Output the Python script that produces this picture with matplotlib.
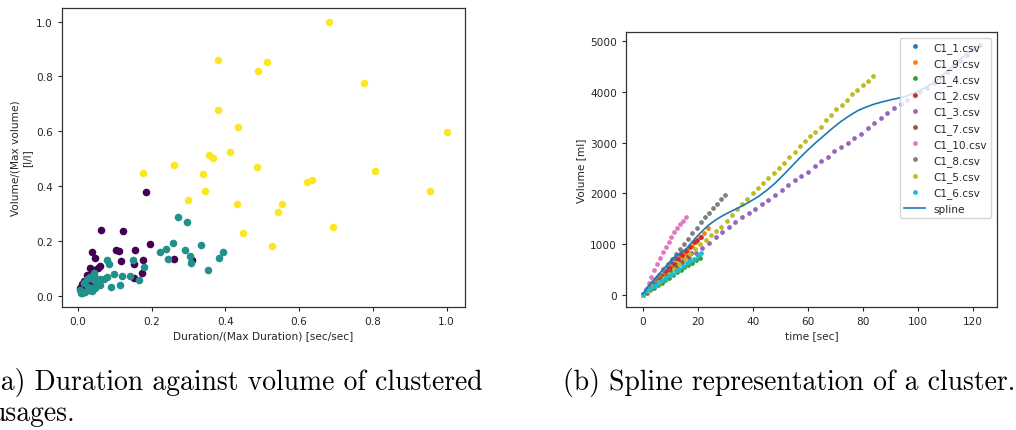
import matplotlib
matplotlib.use("Agg")
import matplotlib.pyplot as plt

# ---------------- data: left scatter (normalised duration vs volume) ----------------
c0_x = [0.186, 0.064, 0.122, 0.195, 0.038, 0.105, 0.111, 0.156, 0.048, 0.118, 0.176, 0.153,
        0.260, 0.310, 0.061, 0.034, 0.174, 0.152, 0.029, 0.050, 0.030, 0.012, 0.007, 0.021,
        0.040, 0.025, 0.045, 0.018, 0.035, 0.055]
c0_y = [0.380, 0.239, 0.235, 0.190, 0.159, 0.167, 0.163, 0.166, 0.139, 0.128, 0.130, 0.118,
        0.133, 0.130, 0.110, 0.100, 0.082, 0.067, 0.066, 0.051, 0.045, 0.045, 0.030, 0.037,
        0.085, 0.075, 0.095, 0.055, 0.050, 0.100]

c1_x = [0.271, 0.297, 0.259, 0.335, 0.238, 0.224, 0.290, 0.393, 0.303, 0.245, 0.383, 0.306,
        0.354, 0.149, 0.179, 0.078, 0.084, 0.098, 0.120, 0.143, 0.165, 0.115, 0.089, 0.080,
        0.061, 0.043, 0.012, 0.007, 0.021, 0.030, 0.039, 0.048, 0.052, 0.043, 0.034, 0.027,
        0.016, 0.070, 0.060, 0.045, 0.025, 0.010, 0.035]
c1_y = [0.289, 0.270, 0.193, 0.184, 0.170, 0.159, 0.166, 0.159, 0.145, 0.133, 0.137, 0.121,
        0.093, 0.130, 0.106, 0.130, 0.118, 0.079, 0.072, 0.072, 0.057, 0.039, 0.033, 0.070,
        0.063, 0.084, 0.009, 0.021, 0.015, 0.023, 0.018, 0.027, 0.045, 0.057, 0.070, 0.033,
        0.048, 0.060, 0.040, 0.075, 0.060, 0.010, 0.030]

c2_x = [0.680, 0.381, 0.512, 0.488, 0.775, 0.380, 0.435, 1.000, 0.412, 0.355, 0.366, 0.486,
        0.260, 0.807, 0.176, 0.340, 0.622, 0.635, 0.344, 0.954, 0.299, 0.431, 0.553, 0.544,
        0.693, 0.448, 0.526]
c2_y = [1.000, 0.859, 0.851, 0.820, 0.776, 0.676, 0.616, 0.598, 0.524, 0.515, 0.504, 0.470,
        0.476, 0.456, 0.449, 0.444, 0.416, 0.422, 0.382, 0.383, 0.351, 0.334, 0.334, 0.305,
        0.250, 0.229, 0.182]

# ---------------- data: right plot (volume over time per file) ----------------
series_names = ["C1_1.csv", "C1_9.csv", "C1_4.csv", "C1_2.csv", "C1_3.csv",
                "C1_7.csv", "C1_10.csv", "C1_8.csv", "C1_5.csv", "C1_6.csv"]

t_c1_1 = [0, 1.3, 2.6, 3.9, 5.2, 6.5, 7.8, 9.1, 10.4, 11.7, 13.0, 14.3]
v_c1_1 = [20, 100, 180, 255, 330, 400, 470, 550, 640, 720, 775, 830]

t_c1_9 = [0, 1.5, 3.0, 4.4, 5.9, 7.4, 8.9, 10.3, 11.8, 13.3, 14.8, 16.2, 17.7, 19.2, 20.7, 22.1, 23.6]
v_c1_9 = [0, 70, 150, 230, 310, 390, 470, 550, 630, 720, 800, 880, 960, 1050, 1130, 1220, 1314]

t_c1_4 = [0, 1.4, 2.7, 4.1, 5.5, 6.9, 8.2, 9.6, 11.0, 12.4, 13.7, 15.1, 16.5, 17.9, 19.2, 20.6]
v_c1_4 = [0, 40, 90, 140, 190, 240, 290, 340, 390, 440, 490, 540, 590, 620, 680, 723]

t_c1_2 = [0, 1.4, 2.8, 4.2, 5.7, 7.1, 8.5, 9.9, 11.3, 12.7, 14.1, 15.6, 17.0, 18.4, 19.8, 21.2]
v_c1_2 = [0, 60, 140, 220, 300, 380, 460, 530, 610, 700, 780, 870, 950, 1040, 1090, 1137]

t_c1_3 = [0, 2.4, 4.8, 7.2, 9.6, 12.0, 14.4, 16.8, 19.2, 21.6, 24.0, 26.4, 28.8, 31.2, 33.6,
          36.0, 38.4, 40.8, 43.2, 45.6, 48.0, 50.4, 52.8, 55.2, 57.6, 60.0, 62.4, 64.8, 67.2,
          69.6, 72.0, 74.4, 76.8, 79.2, 81.6, 84.0, 86.4, 88.8, 91.2, 93.6, 96.0, 98.4, 100.8,
          103.2, 105.6, 108.0, 110.4, 112.8, 115.2, 117.6, 120.0, 122.4]
v_c1_3 = [0, 100, 205, 310, 410, 515, 620, 720, 820, 925, 1030, 1132, 1237, 1332, 1435,
          1532, 1610, 1690, 1785, 1878, 1965, 2065, 2170, 2270, 2339, 2430, 2536, 2638, 2725,
          2830, 2915, 3000, 3085, 3180, 3285, 3390, 3485, 3585, 3680, 3760, 3840, 3920, 4000,
          4080, 4180, 4290, 4400, 4510, 4620, 4730, 4840, 4930]

t_c1_7 = [0, 1.25, 2.5, 3.75, 5, 6.25, 7.5, 8.75, 10, 11.25, 12.5, 13.75, 15, 16.25, 17.5]
v_c1_7 = [0, 50, 110, 170, 230, 290, 350, 410, 470, 530, 590, 650, 710, 770, 830]

t_c1_10 = [0, 1.0, 2.1, 3.1, 4.2, 5.2, 6.2, 7.3, 8.3, 9.4, 10.4, 11.4, 12.5, 13.5, 14.6, 15.6]
v_c1_10 = [0, 110, 230, 360, 490, 610, 720, 840, 950, 1050, 1140, 1230, 1310, 1390, 1460, 1530]

t_c1_8 = [0, 1.5, 3.0, 4.5, 6.0, 7.5, 9.0, 10.5, 12.0, 13.5, 15.0, 16.5, 18.0, 19.5, 21.0,
          22.5, 24.0, 25.5, 27.0, 28.5, 29.8]
v_c1_8 = [0, 100, 200, 300, 400, 500, 600, 710, 810, 910, 1010, 1110, 1210, 1320, 1430,
          1530, 1620, 1710, 1800, 1880, 1960]

t_c1_5 = [0, 1.9, 3.8, 5.7, 7.6, 9.5, 11.4, 13.3, 15.2, 17.1, 19.0, 20.9, 22.8, 24.7, 26.6,
          28.5, 30.4, 32.3, 34.2, 36.1, 38.0, 39.9, 41.8, 43.7, 45.6, 47.5, 49.4, 51.3, 53.2,
          55.1, 57.0, 58.9, 60.8, 62.7, 64.6, 66.5, 68.4, 70.3, 72.2, 74.1, 76.0, 77.9, 79.8,
          81.7, 83.6]
v_c1_5 = [0, 80, 165, 250, 335, 420, 510, 600, 700, 800, 900, 995, 1090, 1170, 1250,
          1340, 1460, 1570, 1690, 1790, 1895, 2000, 2103, 2210, 2300, 2404, 2500, 2601, 2710,
          2825, 2930, 3030, 3128, 3220, 3318, 3440, 3540, 3660, 3750, 3850, 3955, 4040, 4130,
          4217, 4322]

t_c1_6 = [0, 1.3, 2.7, 4.0, 5.3, 6.6, 8.0, 9.3, 10.6, 11.9, 13.3, 14.6, 15.9, 17.2, 18.6, 19.9, 21.2]
v_c1_6 = [20, 70, 120, 170, 220, 270, 320, 370, 410, 460, 510, 570, 620, 660, 700, 760, 821]

spline_t = [0, 2, 4, 6, 8, 10, 12, 14, 16, 18, 20, 22, 24, 26, 28, 30, 33, 36, 39, 42, 45, 48,
            51, 54, 57, 60, 63, 66, 69, 72, 75, 78, 81, 84, 87, 90, 93, 96, 99, 102, 105, 108,
            111, 114, 117, 120, 122.4]
spline_v = [20, 175, 300, 420, 540, 660, 770, 840, 920, 1050, 1170, 1280, 1380, 1460, 1530,
            1590, 1670, 1750, 1840, 1940, 2060, 2200, 2360, 2530, 2700, 2860, 3010, 3150, 3290,
            3420, 3530, 3630, 3700, 3760, 3805, 3845, 3880, 3920, 3990, 4070, 4160, 4290, 4430,
            4590, 4720, 4840, 4930]

series_t = [t_c1_1, t_c1_9, t_c1_4, t_c1_2, t_c1_3, t_c1_7, t_c1_10, t_c1_8, t_c1_5, t_c1_6]
series_v = [v_c1_1, v_c1_9, v_c1_4, v_c1_2, v_c1_3, v_c1_7, v_c1_10, v_c1_8, v_c1_5, v_c1_6]

caption_a = ["(a) Duration against volume of clustered", "usages."]
caption_b = "(b) Spline representation of a cluster."

# ---------------- figure ----------------
W, H = 1016, 431
fig = plt.figure(figsize=(W / 100, H / 100), dpi=100)

TXT = "#262626"
FS = 7.6
plt.rcParams["font.family"] = ["DejaVu Sans"]


def style(ax):
    for s in ax.spines.values():
        s.set_color("#333333")
        s.set_linewidth(0.9)
    ax.tick_params(labelsize=FS, colors=TXT, length=3, width=0.8)


def fx(px):
    return px / W


def fy(py):
    return 1 - py / H


# left scatter
axL = fig.add_axes([fx(62), fy(308), fx(465) - fx(62), fy(9) - fy(308)])
vir = matplotlib.colormaps["viridis"]
axL.scatter(c0_x, c0_y, s=30, color=vir(0.0), linewidths=0)
axL.scatter(c1_x, c1_y, s=30, color=vir(0.5), linewidths=0)
axL.scatter(c2_x, c2_y, s=30, color=vir(1.0), linewidths=0)
axL.set_xticks([0.0, 0.2, 0.4, 0.6, 0.8, 1.0])
axL.set_yticks([0.0, 0.2, 0.4, 0.6, 0.8, 1.0])
axL.set_xlabel("Duration/(Max Duration) [sec/sec]", fontsize=FS, color=TXT, labelpad=3)
axL.set_ylabel("Volume/(Max volume)\n[l/l]", fontsize=FS, color=TXT, labelpad=3)
style(axL)

# right plot
axR = fig.add_axes([fx(626), fy(308.3), fx(996.7) - fx(626), fy(33.3) - fy(308.3)])
colors = plt.rcParams["axes.prop_cycle"].by_key()["color"]
for i, (name, t, v) in enumerate(zip(series_names, series_t, series_v)):
    axR.plot(t, v, linestyle="none", marker=".", markersize=4.8, color=colors[i], label=name)
axR.plot(spline_t, spline_v, color=colors[0], linewidth=1.2, label="spline")
axR.set_xticks([0, 20, 40, 60, 80, 100, 120])
axR.set_yticks([0, 1000, 2000, 3000, 4000, 5000])
axR.set_xlabel("time [sec]", fontsize=FS, color=TXT, labelpad=3)
axR.set_ylabel("Volume [ml]", fontsize=FS, color=TXT, labelpad=3)
style(axR)
leg = axR.legend(loc="upper right", fontsize=FS, labelspacing=0.5, borderaxespad=0.5)
for txt in leg.get_texts():
    txt.set_color(TXT)

# captions (LaTeX-like serif)
CFS = 19.9
fig.text(fx(-10), fy(390), caption_a[0], fontname="cmr10", fontsize=CFS, va="baseline", ha="left", color="black")
fig.text(fx(-10), fy(421), caption_a[1], fontname="cmr10", fontsize=CFS, va="baseline", ha="left", color="black")
fig.text(fx(563), fy(390), caption_b, fontname="cmr10", fontsize=CFS, va="baseline", ha="left", color="black")

fig.savefig("out.png", dpi=100)
